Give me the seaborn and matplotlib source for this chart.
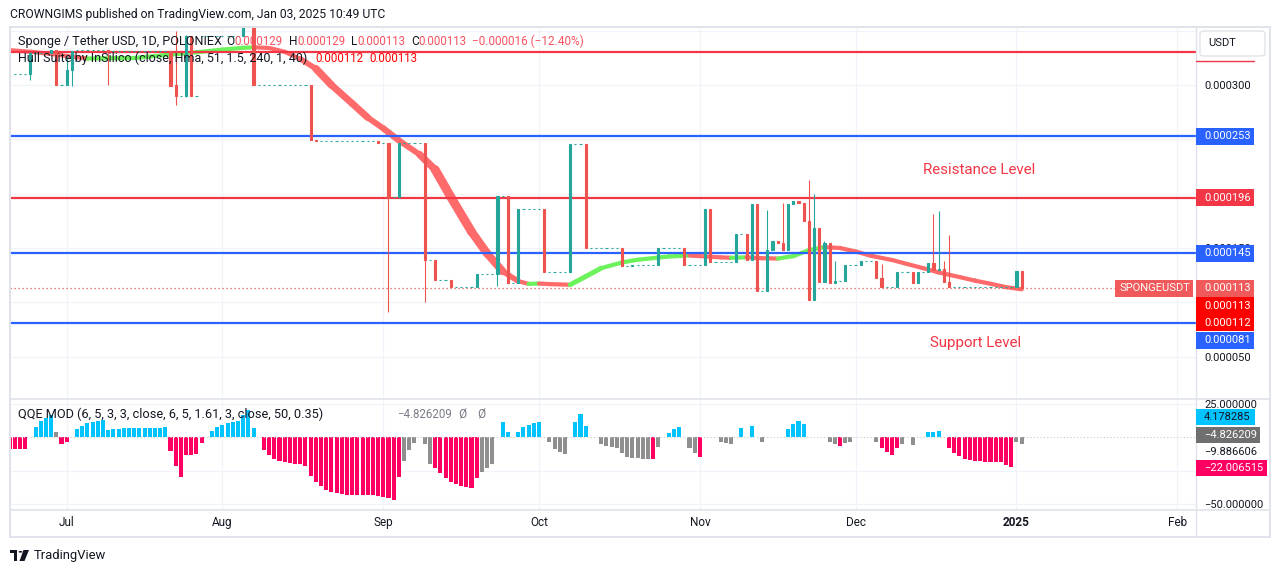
import numpy as np
import pandas as pd
import matplotlib
matplotlib.use("Agg")
import matplotlib.pyplot as plt
from matplotlib.collections import LineCollection
from matplotlib.patches import Rectangle, FancyBboxPatch, Circle, Polygon
from matplotlib.lines import Line2D
import seaborn as sns

#Prices in micro-USDT (1e-6), x = daily bar index (0 = Jul 1, 2024)
candle_bar = [-7, -3, -2, 0, 1, 8, 20, 21, 23, 24,
              34, 36, 47, 48, 60, 62, 64, 69, 71, 74,
              79, 83, 85, 87, 92, 97, 100, 107, 109, 114,
              119, 123, 124, 129, 131, 132, 133, 135, 136, 137,
              138, 139, 140, 141, 142, 143, 144, 145, 146, 147,
              148, 150, 153, 156, 157, 160, 163, 164, 166, 167,
              168, 169, 170, 183, 184]
candle_open = [310, 329, 332, 300, 314, 332, 331, 300, 290, 345,
               345, 353, 300, 249.5, 248.5, 246.5, 197, 246.5, 139, 121,
               114.5, 126, 198, 118, 186, 127.5, 246, 150, 133, 134.7,
               150, 134.5, 186, 137, 163, 139, 190.5, 110, 148, 156.5,
               155, 148, 190.5, 193.5, 191.5, 174.5, 102, 168, 119, 155,
               118, 120, 134.5, 138.5, 122, 114.5, 128, 118, 128, 136,
               130, 131, 119, 114, 129]
candle_high = [330, 332, 332, 328, 331, 332, 331, 350, 346, 345,
               353, 353, 300, 249.5, 248.5, 246.5, 246.5, 246.5, 139, 121,
               126, 198, 198, 186, 186, 246, 246, 150, 134.7, 150,
               150, 186, 186, 163, 163, 190.5, 190.5, 185, 156.5, 156.5,
               191, 190.5, 193.5, 193.5, 191.5, 213, 200, 168, 156, 155,
               138.5, 134.5, 138.5, 138.5, 135.5, 128, 128, 128, 136, 181,
               184, 138, 162, 129, 129]
candle_low = [305, 329, 300, 300, 299, 300, 299, 282, 289, 290,
              345, 300, 249, 248.5, 246.5, 91, 197, 100, 121, 114.5,
              114.5, 115, 118, 118, 127.5, 127.5, 150, 133, 133, 134.7,
              134.5, 134.5, 137, 137, 139, 139, 110, 110, 148, 155,
              148, 148, 190.5, 191.5, 174.5, 102, 102, 119, 119, 118,
              118, 120, 134.5, 122, 114.5, 114.5, 118, 118, 128, 130,
              130, 119, 114, 114, 113]
candle_close = [329, 332, 300, 314, 331, 331, 299, 290, 345, 290,
                353, 300, 249, 248.5, 246.5, 197, 246.5, 139, 121, 114.5,
                126, 198, 118, 186, 127.5, 246, 150, 133, 134.7, 150,
                134.5, 186, 137, 163, 139, 190.5, 110, 148, 156.5, 155,
                148, 190.5, 193.5, 191.5, 174.5, 102, 168, 119, 155, 118,
                120, 134.5, 138.5, 122, 114.5, 128, 118, 128, 136, 130,
                131, 119, 114, 129, 113]

#Runs of no-trade days (flat ticks)
flat_start = [-10, -6, -1, 2, 9, 22, 25, 26, 35, 37,
              49, 61, 63, 65, 70, 72, 75, 80, 84, 86,
              88, 93, 98, 101, 108, 110, 115, 120, 125, 130,
              134, 149, 151, 154, 158, 161, 165, 171]
flat_end = [-8, -4, -1, 7, 19, 22, 25, 33, 35, 46,
            59, 61, 63, 68, 70, 73, 78, 82, 84, 86,
            91, 96, 99, 106, 108, 113, 118, 122, 128, 130,
            134, 149, 152, 155, 159, 162, 165, 182]
flat_level = [310, 329, 300, 332, 331, 290, 290, 345, 353, 300,
              248.5, 246.5, 197, 246.5, 139, 121, 114.5, 126, 198, 118,
              186, 127.5, 246, 150, 133, 134.7, 150, 134.5, 137, 163,
              110, 120, 134.5, 138.5, 114.5, 128, 128, 114]

#Hull Suite read points
hull_bar = [-11, -7, -3, 1, 4, 8, 13, 19, 25, 30,
            34, 36, 39, 42, 45, 48, 51, 55, 58, 61,
            64, 68, 71, 74, 78, 81, 84, 87, 89, 91,
            93, 97, 100, 103, 107, 110, 116, 120, 126, 128,
            131, 134, 137, 140, 143, 146, 149, 152, 155, 159,
            162, 165, 168, 172, 175, 178, 181, 184]
hull_val = [332, 330.5, 328.5, 326, 324.3, 324.5, 324.8, 327.5, 330, 332.5,
            334.2, 334.6, 334, 330.5, 324, 315, 300, 283, 270, 260,
            249, 236, 222, 197, 165, 145, 128.5, 119.5, 117, 117.3,
            116.8, 116.2, 123.8, 131.5, 136.7, 139.2, 142.2, 143.1, 141.4, 141,
            141.4, 140.6, 140.3, 142.5, 148, 150.9, 150, 146.8, 142.8, 139,
            135.2, 131.5, 127.5, 123.3, 120, 117.1, 114, 112]

#QQE MOD histogram
qqe_bar = [-11, -10, -9, -8, -6, -5, -4, -3, -2, -1, 0,
           2, 3, 4, 5, 6, 7, 8, 9, 10, 11, 12, 13, 14, 15, 16, 17, 18, 19,
           20, 21, 22, 23, 24, 25, 26,
           28, 29, 30, 31, 32, 33, 34, 35, 36,
           38, 39, 40, 41, 42, 43, 44, 45, 46, 47, 48, 49, 50,
           51, 52, 53, 54, 55, 56, 57, 58, 59, 60, 61, 62, 63, 64,
           65, 66, 67, 69, 70,
           71, 72, 73, 74, 75, 76, 77, 78, 79,
           80, 81, 82, 84, 85, 87, 88, 89, 90, 91,
           93, 94, 95, 96, 98, 99, 100,
           103, 104, 105, 106, 107, 108, 109, 110, 111, 112, 113, 114,
           116, 117, 118, 120, 121, 122, 126, 127, 128, 130, 132, 134,
           139, 140, 141, 142, 147, 148, 149, 150, 151,
           156, 157, 158, 159, 160, 161, 163, 166, 167, 168,
           170, 171, 172, 173, 174, 175, 176, 177, 178, 179, 180, 181, 182,
           183, 184]
qqe_val = [-8.75, -8.75, -8.75, -8.75, 7.5, 12.5, 14.25, 16.75, 3.75, -5, -3.75,
           6.25, 8.75, 10.75, 11.75, 12.25, 13.25, 5.75, 6.25, 6.25, 6.75, 7, 7, 7, 7, 7, 7, 7, 7.5,
           -10, -21.25, -29.5, -13.25, -13.25, -12.5, -4.25,
           4.5, 7.5, 9.25, 10.5, 11.25, 12.25, 16.75, 20.75, 7,
           -9.5, -13.25, -16.25, -17.5, -18.75, -19.5, -20, -20.25, -21.25, -29.25, -33.25, -36.75, -39.25,
           -40.75, -41.75, -42.5, -43, -43, -43, -43, -43, -43.25, -44.25, -45, -45.5, -46.75, -29.5,
           -17.5, -9.25, -4.25, -5.25, -20,
           -23.25, -27, -30.5, -33.25, -35, -36.25, -37, -38.25, -30.5,
           -25.75, -23.25, -20, 11.75, 4.25, 4.25, 7.5, 9.25, 10.75, 11.75,
           -3.75, -8.75, -10.75, -12.5, 11.75, 17.5, 8.75,
           -5, -6.25, -7, -8, -11.75, -15, -15.5, -15.5, -16, -16, -16.25, -7,
           3.25, 6.25, 7.75, -8, -11.75, -14.75, -3.25, -4.25, -5, 7, 8.5, -3.25,
           6.25, 10, 12.25, 10, -3.75, -5, -6.25, -4.5, -3.75,
           -3.75, -7.75, -10.75, -13.25, -7.75, -5, -5.75, 3.75, 3.75, 4.5,
           -8, -11.75, -13.75, -16.25, -17, -17.5, -18, -18.25, -18.25, -18.75, -18.75, -20.75, -22,
           -3.25, -4.83]
qqe_kind = ("d d d d u u u u f d d "
            "u u u u u u u u u u u u u u u u u u "
            "d d d d d d d "
            "u u u u u u u u u "
            "d d d d d d d d d d d d d "
            "d d d d d d d d d d d d d d "
            "f f f f f "
            "d d d d d d d d d "
            "f f f u u u u u u u "
            "f f f f u u u "
            "f f f f f f f f f f d f "
            "u u u f f d f f f u u f "
            "u u u u f f d f f "
            "f d d d d f f u u u "
            "d d d d d d d d d d d d d "
            "f f").split()

red_levels = [330, 196]
blue_levels = [253, 145, 81]
last_close = 113
hull_now = [113, 112]
qqe_tags = [4.178285, -4.826209, -9.886606, -22.006515]

month_bar = [0, 30, 61, 91, 122, 152, 183, 214]
month_label = ["Jul", "Aug", "Sep", "Oct", "Nov", "Dec", "2025", "Feb"]
price_ticks = [50, 100, 150, 200, 250, 300, 350]
price_shown = [50, 150, 200, 300]   #others sit behind the tags
qqe_ticks = [25, -25, -50]
qqe_shown = [25, -50]

UP, DOWN = "#26a69a", "#ef5350"
RED, BLUE = "#f23645", "#2962ff"
HULL_UP, HULL_DN = "#6cf25a", "#ff6a6a"
TXT, GRID, FRAME = "#131722", "#f0f3fa", "#e0e3eb"

sns.set_theme(style="white")
plt.rcParams["font.family"] = ["Roboto", "DejaVu Sans"]

W, H = 1281, 573
fig = plt.figure(figsize=(W / 100, H / 100), dpi=100)
fig.patch.set_facecolor("white")

def fx(px):
    return px / W

def fy(py):
    return 1 - py / H

#Panes
ax = fig.add_axes([fx(10), fy(399), fx(1196) - fx(10), fy(27) - fy(399)])
axq = fig.add_axes([fx(10), fy(510), fx(1196) - fx(10), fy(399) - fy(510)])
xlim = ((10 - 66.7) / 5.19, (1196 - 66.7) / 5.19)

#Candles
rows = list(zip(candle_bar, candle_open, candle_high, candle_low, candle_close))
for s, e, v in zip(flat_start, flat_end, flat_level):
    for b in range(s, e + 1):
        rows.append((b, v, v, v, v))
df = pd.DataFrame(rows, columns=["bar", "open", "high", "low", "close"]).sort_values("bar")
colors = np.where(df["close"] >= df["open"], UP, DOWN)
ax.vlines(df["bar"], df["low"], df["high"], colors=colors, lw=0.8, zorder=3)
ax.bar(df["bar"], (df["close"] - df["open"]).abs(), bottom=df[["open", "close"]].min(axis=1),
       width=0.42, color=colors, edgecolor=colors, linewidth=0.8, zorder=3)

#Levels
for v in red_levels:
    ax.axhline(v, color=RED, lw=1.6, zorder=2.5)
for v in blue_levels:
    ax.axhline(v, color=BLUE, lw=1.6, zorder=2.5)
ax.plot([xlim[0], (1115 - 66.7) / 5.19], [last_close, last_close], color=DOWN, lw=0.9,
        ls=(0, (1, 2.2)), zorder=2.5)

ax.set_xlim(*xlim)
ax.set_ylim(11.1, 353.3)

#Hull band
hb = np.array(hull_bar, float)
hv = np.array(hull_val, float)
pts = np.column_stack([hb, hv])
segs = np.stack([pts[:-1], pts[1:]], axis=1)
px_per_bar = 1186 / (xlim[1] - xlim[0])
px_per_unit = 372 / (353.3 - 11.1)
s = np.abs(np.diff(hv) / np.diff(hb)) * px_per_unit / px_per_bar
lw_px = np.maximum(4.2, 2 * px_per_bar * s / np.sqrt(1 + s ** 2))
lc = LineCollection(segs, colors=np.where(np.diff(hv) > 0, HULL_UP, HULL_DN),
                    linewidths=lw_px * 0.72, capstyle="round", joinstyle="round", zorder=2)
ax.add_collection(lc)

#QQE histogram
qdf = pd.DataFrame({"bar": qqe_bar, "val": qqe_val, "kind": qqe_kind})
sns.barplot(data=qdf, x="bar", y="val", hue="kind", native_scale=True, dodge=False,
            palette={"u": "#00c3ff", "d": "#ff0062", "f": "#8f8f8f"}, width=0.78,
            errorbar=None, saturation=1, legend=False, linewidth=0, ax=axq)
axq.axhline(0, color="#c9c9c9", lw=0.8, ls=(0, (1, 2)), zorder=1)
axq.set_xlim(*xlim)
axq.set_ylim(-54.4, 28.65)

#Axes styling
for a in (ax, axq):
    for sp in a.spines.values():
        sp.set_visible(False)
    a.set_facecolor("white")
    a.set_axisbelow(True)
    a.set_xticks(month_bar)
    a.grid(True, color=GRID, lw=0.9)
    a.set_xlabel("")
    a.set_ylabel("")
    a.yaxis.tick_right()
    a.tick_params(axis="y", length=0, pad=5.8, labelsize=8, labelcolor=TXT)

ax.set_yticks(price_ticks)
ax.set_yticklabels([f"{v * 1e-6:.6f}" if v in price_shown else "" for v in price_ticks])
ax.tick_params(axis="x", length=0, labelbottom=False)
axq.set_yticks(qqe_ticks)
axq.set_yticklabels([f"{v:.6f}".replace("-", "\u2212") if v in qqe_shown else "" for v in qqe_ticks])
axq.set_xticklabels(month_label)
axq.tick_params(axis="x", length=0, pad=4.5, labelsize=8.5, labelcolor=TXT)
for t in axq.get_xticklabels():
    if t.get_text() == "2025":
        t.set_fontweight("bold")

#Frame
def fline(xs, ys, lw=1.4):
    fig.add_artist(Line2D([fx(v) for v in xs], [fy(v) for v in ys], transform=fig.transFigure,
                          color=FRAME, lw=lw, zorder=4))

fline([10, 1270], [27, 27])
fline([10, 1270], [537, 537])
fline([10, 10], [27, 537])
fline([1270, 1270], [27, 537])
fline([10, 1270], [399, 399], 1.2)
fline([10, 1270], [510, 510], 1.2)
fline([1196, 1196], [27, 537], 1.0)

#Right-scale tags
def ypx(a, v):
    return H - a.transData.transform((0, v))[1]

def tag(y, text, fc, tc="white", x0=1196, x1=1254, h=17, tx=1204):
    fig.add_artist(Rectangle((fx(x0), fy(y + h / 2)), fx(x1) - fx(x0), h / H,
                             transform=fig.transFigure, fc=fc, ec="none", zorder=5))
    fig.text(fx(tx), fy(y), text, color=tc, fontsize=8, va="center", ha="left", zorder=6)

fmt = lambda v: f"{v * 1e-6:.6f}"
for v in blue_levels[:2]:
    tag(ypx(ax, v), fmt(v), BLUE)
tag(ypx(ax, red_levels[1]), fmt(red_levels[1]), RED)
y_last = ypx(ax, last_close)
tag(y_last, fmt(last_close), "#f05a5a")
tag(y_last + 17.5, fmt(hull_now[0]), "#ff0000")
tag(y_last + 34.5, fmt(hull_now[1]), "#ff0000")
tag(ypx(ax, blue_levels[2]) + 17.4, fmt(blue_levels[2]), BLUE)
tag(y_last, "SPONGEUSDT", "#f05a5a", x0=1115, x1=1193, tx=1119)
fig.add_artist(Line2D([fx(1196), fx(1254)], [fy(61), fy(61)], transform=fig.transFigure,
                      color=RED, lw=1, zorder=5))

#USDT box
fig.add_artist(FancyBboxPatch((fx(1200), fy(56)), fx(1265) - fx(1200), 25 / H,
                              boxstyle="round,pad=0,rounding_size=0.004", transform=fig.transFigure,
                              fc="white", ec=FRAME, lw=1, zorder=5))
fig.text(fx(1208), fy(43.5), "USDT", color=TXT, fontsize=8, va="center", ha="left", zorder=6)

#QQE tags
qy = [ypx(axq, v) for v in qqe_tags]
tag(qy[0] - 15, "4.178285", "#00c3ff", tc=TXT, x1=1255, h=16)
tag(qy[1] - 9, "\u22124.826209", "#6f6f6f", x1=1260, h=16)
fig.text(fx(1204), fy(qy[2] + 1), "\u22129.886606", color=TXT, fontsize=8, va="center", zorder=6)
tag(qy[3] + 1.5, "\u221222.006515", "#ff0062", x1=1267, h=16)

#Header and legends (labels larger, numbers in the narrower size)
fig.text(fx(10), fy(14.5), "CROWNGIMS published on TradingView.com, Jan 03, 2025 10:49 UTC",
         color=TXT, fontsize=8.7, va="center", ha="left")
val_red = "#f7525f"
legend1 = [("Sponge / Tether USD, 1D, POLONIEX", 18, TXT, 9.1), ("O", 226.5, TXT, 8.6),
           ("0.000129", 234.5, val_red, 8.3), ("H", 289, TXT, 8.6), ("0.000129", 297, val_red, 8.3),
           ("L", 351, TXT, 8.6), ("0.000113", 357, val_red, 8.3), ("C", 411, TXT, 8.6),
           ("0.000113", 418, val_red, 8.3), ("\u22120.000016 (\u221212.40%)", 472, val_red, 8.5)]
for t, x, c, fs in legend1:
    fig.text(fx(x), fy(41.5), t, color=c, fontsize=fs, va="center", ha="left", zorder=6)
legend2 = [("Hull Suite by InSilico (close, Hma, 51, 1.5, 240, 1, 40)", 18, TXT, 9.0),
           ("0.000112", 315, "#ff0000", 8.3), ("0.000113", 369, "#ff0000", 8.3)]
for t, x, c, fs in legend2:
    fig.text(fx(x), fy(58.5), t, color=c, fontsize=fs, va="center", ha="left", zorder=6)
legend3 = [("QQE MOD (6, 5, 3, 3, close, 6, 5, 1.61, 3, close, 50, 0.35)", 18, TXT, 9.2),
           ("\u22124.826209", 397, "#787b86", 8.3), ("\u00d8", 458, "#787b86", 8.6),
           ("\u00d8", 477.5, "#787b86", 8.6)]
for t, x, c, fs in legend3:
    fig.text(fx(x), fy(414), t, color=c, fontsize=fs, va="center", ha="left", zorder=6)

fig.text(fx(979), fy(170), "Resistance Level", color=RED, fontsize=10.9, va="center", ha="center")
fig.text(fx(975.5), fy(343), "Support Level", color=RED, fontsize=10.9, va="center", ha="center")

#Footer logo
logo = "#131722"
fig.add_artist(Rectangle((fx(10), fy(553)), fx(17) - fx(10), 3 / H, transform=fig.transFigure, fc=logo, ec="none"))
fig.add_artist(Rectangle((fx(13.5), fy(561)), fx(17) - fx(13.5), 11 / H, transform=fig.transFigure, fc=logo, ec="none"))
fig.add_artist(Circle((fx(20.5), fy(551.8)), 1.9 / W, transform=fig.transFigure, fc=logo, ec="none"))
fig.add_artist(Polygon([(fx(23.5), fy(550)), (fx(29), fy(550)), (fx(24.5), fy(561)), (fx(19.5), fy(561))],
                       closed=True, transform=fig.transFigure, fc=logo, ec="none"))
fig.text(fx(34), fy(555), "TradingView", color=logo, fontsize=9.4, va="center", ha="left")

fig.savefig("out.png", dpi=100, facecolor="white")
